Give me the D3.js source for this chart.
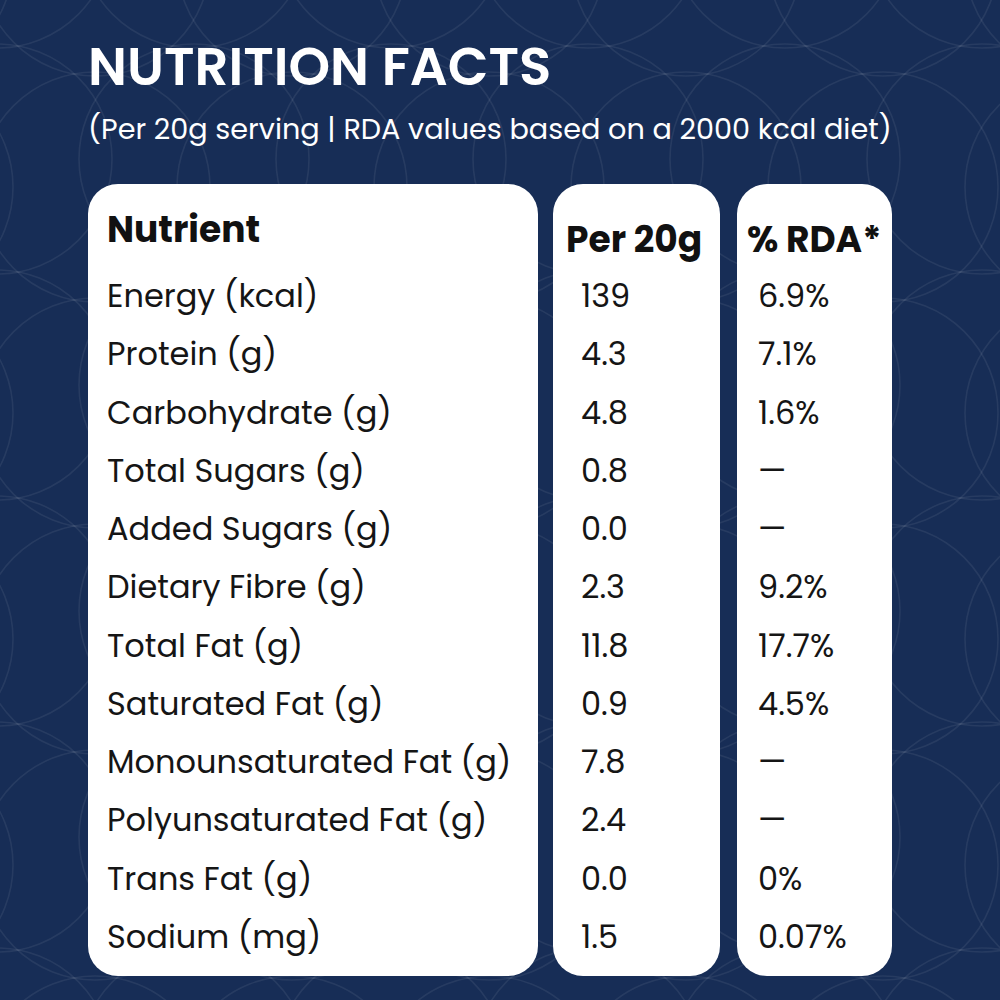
<!DOCTYPE html>
<html>
<head>
<meta charset="utf-8">
<script src="https://cdn.jsdelivr.net/npm/d3@7"></script>
<style>
  html, body { margin: 0; padding: 0; background: #172d56; }
  svg { display: block; }
</style>
</head>
<body>
<div id="chart"></div>
<script>
// table data
var nutrients = [
  "Energy (kcal)", "Protein (g)", "Carbohydrate (g)", "Total Sugars (g)",
  "Added Sugars (g)", "Dietary Fibre (g)", "Total Fat (g)", "Saturated Fat (g)",
  "Monounsaturated Fat (g)", "Polyunsaturated Fat (g)", "Trans Fat (g)", "Sodium (mg)"
];
var per20g = ["139", "4.3", "4.8", "0.8", "0.0", "2.3", "11.8", "0.9", "7.8", "2.4", "0.0", "1.5"];
var rda = ["6.9%", "7.1%", "1.6%", "—", "—", "9.2%", "17.7%", "4.5%", "—", "—", "0%", "0.07%"];
var columns = ["Nutrient", "Per 20g", "% RDA*"];

var title = "NUTRITION FACTS";
var subtitle = "(Per 20g serving | RDA values based on a 2000 kcal diet)";

var width = 1000, height = 1000;
var font = "Poppins, Inter, 'Noto Sans', sans-serif";

var svg = d3.select("#chart").append("svg")
  .attr("width", width)
  .attr("height", height);

svg.append("rect").attr("width", width).attr("height", height).attr("fill", "#172d56");

// faint overlapping circle pattern in the background
var bg = svg.append("g").attr("fill", "none")
  .attr("stroke", "#ffffff").attr("stroke-opacity", 0.07).attr("stroke-width", 1.6);
var cells = [];
d3.range(-1, 6).forEach(function (j) {
  d3.range(-1, 7).forEach(function (i) {
    cells.push({ x: 982 - i * 197, y: -67 + j * 226 });
    cells.push({ x: 883 - i * 197, y: 187 + (j - 1) * 226 });
  });
});
bg.selectAll("circle").data(cells).join("circle")
  .attr("cx", d => d.x).attr("cy", d => d.y).attr("r", 115);

// titles
svg.append("text")
  .attr("x", 88).attr("y", 85)
  .attr("font-family", font).attr("font-weight", 600)
  .attr("font-size", 53).attr("fill", "#ffffff")
  .text(title);

svg.append("text")
  .attr("x", 88).attr("y", 139)
  .attr("font-family", font).attr("font-weight", 400)
  .attr("font-size", 28.7).attr("fill", "#ffffff")
  .text(subtitle);

// column panels
var colX = d3.scaleOrdinal().domain(columns).range([88, 553, 737]);
var colW = d3.scaleOrdinal().domain(columns).range([450, 167, 155]);

svg.append("g").selectAll("rect").data(columns).join("rect")
  .attr("x", d => colX(d)).attr("y", 184)
  .attr("width", d => colW(d)).attr("height", 792)
  .attr("rx", 30).attr("fill", "#ffffff");

// headers
var headX = d3.scaleOrdinal().domain(columns).range([107, 566, 747]);
var headY = d3.scaleOrdinal().domain(columns).range([242, 252, 252]);

svg.append("g").selectAll("text").data(columns).join("text")
  .attr("x", d => headX(d)).attr("y", d => headY(d))
  .attr("font-family", font).attr("font-weight", 700)
  .attr("font-size", 36).attr("fill", "#111111")
  .text(d => d);

// rows
var y = d3.scalePoint().domain(nutrients).range([307, 948]);

var rows = svg.append("g")
  .attr("font-family", font).attr("font-size", 32).attr("fill", "#151515");

rows.selectAll(".name").data(nutrients).join("text")
  .attr("class", "name")
  .attr("x", 107).attr("y", d => y(d))
  .text(d => d);

rows.selectAll(".per").data(per20g).join("text")
  .attr("class", "per")
  .attr("x", 581).attr("y", (d, i) => y(nutrients[i]))
  .text(d => d);

rows.selectAll(".rda").data(rda).join("text")
  .attr("class", "rda")
  .attr("x", 758).attr("y", (d, i) => y(nutrients[i]))
  .text(d => d);
</script>
</body>
</html>
